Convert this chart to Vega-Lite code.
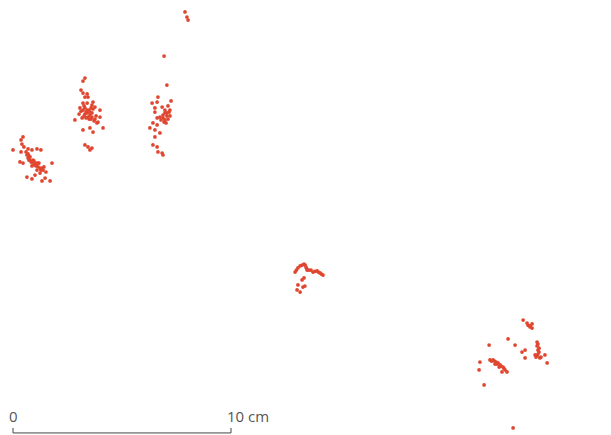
{
  "$schema": "https://vega.github.io/schema/vega-lite/v6.json",
  "width": 611,
  "height": 435,
  "padding": 0,
  "autosize": {"type": "none"},
  "background": "white",
  "config": {"view": {"stroke": null}},
  "datasets": {
    "frags": [
      {"x": 0.37, "y": 6.42}, {"x": 0.46, "y": 6.28}, {"x": 0.41, "y": 6.61}, {"x": 0.50, "y": 6.74}, {"x": 0.37, "y": 6.97},
      {"x": 0.00, "y": 6.88}, {"x": 0.69, "y": 6.83}, {"x": 0.87, "y": 6.88}, {"x": 1.10, "y": 6.83}, {"x": 1.28, "y": 6.88},
      {"x": 0.60, "y": 6.97}, {"x": 0.64, "y": 7.11}, {"x": 0.69, "y": 7.25}, {"x": 0.73, "y": 7.34}, {"x": 0.78, "y": 7.20},
      {"x": 0.83, "y": 7.43}, {"x": 0.92, "y": 7.34}, {"x": 0.96, "y": 7.52}, {"x": 0.87, "y": 7.61}, {"x": 1.06, "y": 7.61},
      {"x": 1.15, "y": 7.48}, {"x": 1.24, "y": 7.71}, {"x": 1.38, "y": 7.80}, {"x": 1.51, "y": 7.89}, {"x": 1.42, "y": 7.66},
      {"x": 1.10, "y": 7.80}, {"x": 0.32, "y": 7.43}, {"x": 0.46, "y": 7.48}, {"x": 1.19, "y": 7.48}, {"x": 1.79, "y": 7.48},
      {"x": 0.64, "y": 8.12}, {"x": 0.87, "y": 8.21}, {"x": 1.01, "y": 8.03}, {"x": 1.24, "y": 7.94}, {"x": 1.33, "y": 8.30},
      {"x": 1.70, "y": 8.30}, {"x": 1.47, "y": 8.17},
      {"x": 0.69, "y": 7.06}, {"x": 0.78, "y": 7.34}, {"x": 0.87, "y": 7.43}, {"x": 0.96, "y": 7.38}, {"x": 1.01, "y": 7.57},
      {"x": 1.15, "y": 7.66}, {"x": 1.28, "y": 7.80}, {"x": 1.33, "y": 7.71}, {"x": 0.73, "y": 7.15}, {"x": 1.06, "y": 7.48},

      {"x": 3.30, "y": 3.58}, {"x": 3.21, "y": 3.72}, {"x": 3.12, "y": 4.13}, {"x": 3.21, "y": 4.27}, {"x": 3.40, "y": 4.31},
      {"x": 3.30, "y": 4.45}, {"x": 3.44, "y": 4.45}, {"x": 3.21, "y": 4.73}, {"x": 3.40, "y": 4.73}, {"x": 3.62, "y": 4.82},
      {"x": 3.67, "y": 4.68}, {"x": 3.76, "y": 4.91}, {"x": 3.07, "y": 4.95}, {"x": 3.21, "y": 5.05}, {"x": 3.35, "y": 5.14},
      {"x": 3.49, "y": 5.05}, {"x": 3.62, "y": 5.18}, {"x": 3.26, "y": 5.32}, {"x": 3.44, "y": 5.37}, {"x": 3.58, "y": 5.46},
      {"x": 3.72, "y": 5.55}, {"x": 3.85, "y": 5.64}, {"x": 3.03, "y": 5.23}, {"x": 3.17, "y": 5.41}, {"x": 2.84, "y": 5.50},
      {"x": 3.99, "y": 5.05}, {"x": 3.99, "y": 5.37}, {"x": 3.81, "y": 5.32}, {"x": 3.21, "y": 5.96}, {"x": 3.53, "y": 5.87},
      {"x": 3.67, "y": 6.06}, {"x": 4.13, "y": 5.87}, {"x": 3.30, "y": 6.65}, {"x": 3.44, "y": 6.74}, {"x": 3.62, "y": 6.79},
      {"x": 3.53, "y": 6.88},
      {"x": 3.30, "y": 4.95}, {"x": 3.40, "y": 5.05}, {"x": 3.30, "y": 5.23}, {"x": 3.40, "y": 5.18}, {"x": 3.53, "y": 5.28},
      {"x": 3.49, "y": 5.46}, {"x": 3.62, "y": 5.37}, {"x": 3.76, "y": 5.46}, {"x": 3.12, "y": 5.10}, {"x": 3.26, "y": 4.86},
      {"x": 3.53, "y": 5.14}, {"x": 3.67, "y": 5.00}, {"x": 3.58, "y": 4.95}, {"x": 3.90, "y": 5.60}, {"x": 3.35, "y": 5.41},

      {"x": 7.89, "y": 0.55}, {"x": 7.98, "y": 0.78}, {"x": 8.03, "y": 0.92}, {"x": 6.93, "y": 2.57}, {"x": 7.06, "y": 3.90},
      {"x": 6.65, "y": 4.45}, {"x": 6.61, "y": 4.68}, {"x": 6.38, "y": 4.73}, {"x": 7.25, "y": 4.63}, {"x": 6.51, "y": 4.95},
      {"x": 6.51, "y": 5.14}, {"x": 6.84, "y": 4.91}, {"x": 6.97, "y": 5.05}, {"x": 7.06, "y": 5.18}, {"x": 7.20, "y": 5.05},
      {"x": 7.20, "y": 5.32}, {"x": 6.97, "y": 5.50}, {"x": 6.74, "y": 5.37}, {"x": 6.61, "y": 5.41}, {"x": 6.88, "y": 5.28},
      {"x": 7.11, "y": 4.86}, {"x": 6.42, "y": 5.64}, {"x": 6.28, "y": 5.87}, {"x": 6.51, "y": 5.96}, {"x": 6.61, "y": 5.73},
      {"x": 6.74, "y": 6.10}, {"x": 6.51, "y": 6.28}, {"x": 6.42, "y": 6.65}, {"x": 6.61, "y": 6.74}, {"x": 6.65, "y": 6.97},
      {"x": 6.84, "y": 7.02}, {"x": 6.88, "y": 7.11},
      {"x": 6.97, "y": 5.18}, {"x": 7.06, "y": 5.32}, {"x": 7.11, "y": 5.46}, {"x": 6.88, "y": 5.41}, {"x": 7.16, "y": 5.14},
      {"x": 6.93, "y": 5.60}, {"x": 7.02, "y": 5.64}, {"x": 6.79, "y": 5.50},

      {"x": 12.94, "y": 12.48}, {"x": 13.07, "y": 12.29}, {"x": 13.26, "y": 12.16}, {"x": 13.35, "y": 12.11}, {"x": 13.44, "y": 12.25},
      {"x": 13.49, "y": 12.39}, {"x": 13.67, "y": 12.39}, {"x": 13.76, "y": 12.48}, {"x": 13.95, "y": 12.43}, {"x": 14.08, "y": 12.52},
      {"x": 14.22, "y": 12.62}, {"x": 13.35, "y": 12.75}, {"x": 13.26, "y": 12.84}, {"x": 13.07, "y": 13.07}, {"x": 13.30, "y": 13.17},
      {"x": 13.39, "y": 13.12}, {"x": 13.03, "y": 13.30}, {"x": 13.17, "y": 13.40},
      {"x": 13.00, "y": 12.39}, {"x": 13.17, "y": 12.20}, {"x": 13.40, "y": 12.16}, {"x": 13.47, "y": 12.32}, {"x": 13.58, "y": 12.39},
      {"x": 13.85, "y": 12.45}, {"x": 14.01, "y": 12.48}, {"x": 14.15, "y": 12.57},

      {"x": 23.40, "y": 14.68}, {"x": 23.58, "y": 14.82}, {"x": 23.81, "y": 14.86}, {"x": 23.72, "y": 15.00}, {"x": 23.81, "y": 15.05},
      {"x": 22.71, "y": 15.55}, {"x": 23.03, "y": 15.83}, {"x": 21.84, "y": 15.83}, {"x": 23.35, "y": 16.15}, {"x": 23.49, "y": 16.06},
      {"x": 23.49, "y": 16.42}, {"x": 24.04, "y": 15.69}, {"x": 24.04, "y": 15.87}, {"x": 24.08, "y": 16.06}, {"x": 24.08, "y": 16.24},
      {"x": 23.99, "y": 16.38}, {"x": 24.17, "y": 16.42}, {"x": 24.40, "y": 16.28}, {"x": 24.50, "y": 16.65}, {"x": 21.88, "y": 16.51},
      {"x": 22.02, "y": 16.51}, {"x": 22.16, "y": 16.61}, {"x": 22.20, "y": 16.70}, {"x": 22.34, "y": 16.74}, {"x": 22.48, "y": 16.84},
      {"x": 22.57, "y": 16.97}, {"x": 21.42, "y": 16.61}, {"x": 22.66, "y": 17.06}, {"x": 22.43, "y": 17.06}, {"x": 21.38, "y": 16.97},
      {"x": 21.61, "y": 17.66}, {"x": 22.94, "y": 19.63},
      {"x": 21.95, "y": 16.56}, {"x": 22.09, "y": 16.56}, {"x": 22.25, "y": 16.65}, {"x": 22.39, "y": 16.79}, {"x": 22.52, "y": 16.90},
      {"x": 22.11, "y": 16.70}, {"x": 22.30, "y": 16.84}, {"x": 24.08, "y": 15.78}, {"x": 24.13, "y": 15.97}, {"x": 24.13, "y": 16.15},
      {"x": 24.04, "y": 16.33}, {"x": 24.22, "y": 16.38}, {"x": 23.95, "y": 16.28}, {"x": 23.72, "y": 14.95}, {"x": 23.63, "y": 14.92}
    ],
    "bar": [
      {"cm": 0, "label": "0"},
      {"cm": 10, "label": "10 cm"}
    ]
  },
  "layer": [
    {
      "data": {"name": "frags"},
      "mark": {"type": "circle", "size": 14, "color": "#e0462f", "opacity": 1},
      "encoding": {
        "x": {"field": "x", "type": "quantitative", "axis": null, "scale": {"domain": [0, 10], "range": [13, 231], "zero": false, "nice": false}},
        "y": {"field": "y", "type": "quantitative", "axis": null, "scale": {"domain": [0, 10], "range": [0, 218], "zero": false, "nice": false}}
      }
    },
    {
      "data": {"name": "bar"},
      "mark": {"type": "rule", "color": "#444444", "strokeWidth": 1},
      "encoding": {
        "x": {"aggregate": "min", "field": "cm", "type": "quantitative"},
        "x2": {"aggregate": "max", "field": "cm"},
        "y": {"datum": 19.86}
      }
    },
    {
      "data": {"name": "bar"},
      "mark": {"type": "rule", "color": "#444444", "strokeWidth": 1},
      "encoding": {
        "x": {"field": "cm", "type": "quantitative"},
        "y": {"datum": 19.63},
        "y2": {"datum": 19.86}
      }
    },
    {
      "data": {"name": "bar"},
      "mark": {"type": "text", "align": "left", "baseline": "alphabetic", "dx": -4, "font": "Open Sans", "fontSize": 15, "color": "#555555"},
      "encoding": {
        "x": {"field": "cm", "type": "quantitative"},
        "y": {"datum": 19.36},
        "text": {"field": "label"}
      }
    }
  ]
}
